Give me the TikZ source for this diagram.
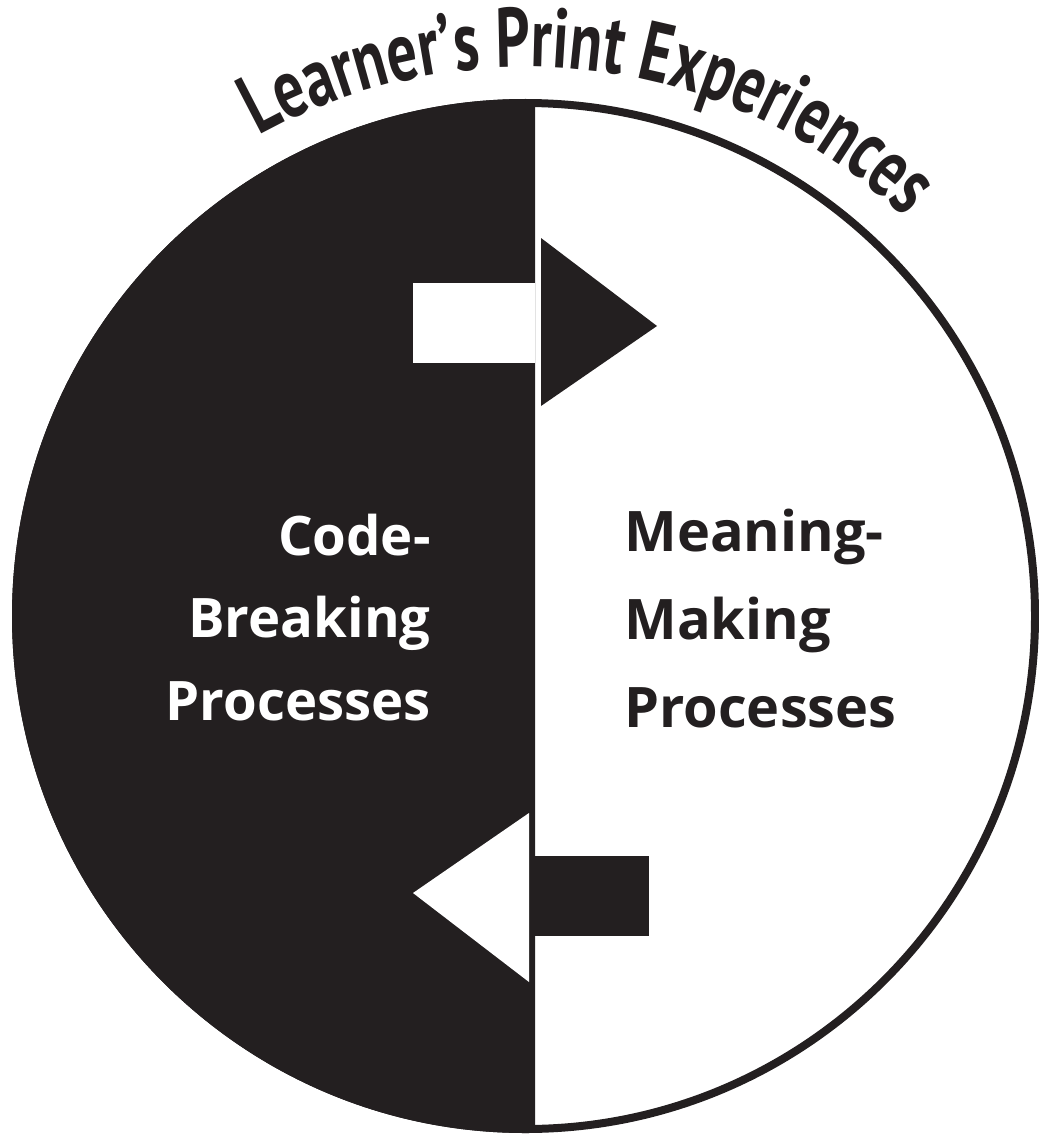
\documentclass[tikz,border=0pt]{standalone}
\usepackage{fontspec}
\usepackage{tikz}
\usetikzlibrary{decorations.text}
\newfontfamily\bodyfont{Open Sans}
\newfontfamily\titlefont[FakeStretch=0.71]{PT Sans}
\definecolor{ink}{RGB}{35,31,32}
\tikzset{
  printhalf/.style={fill=ink},
  printrim/.style={draw=ink,line width=4.55pt},
  processlabel/.style={font=\bodyfont\bfseries\fontsize{31}{46.7}\selectfont,inner sep=0pt},
  every picture/.style={line join=miter}
}

\begin{document}
\begin{tikzpicture}[x=0.02cm,y=0.02cm]
  \useasboundingbox (0,0) rectangle (1038,-1135);
  \coordinate (hub) at (525.5,-616);
  \begin{scope}
    \clip (0,0) rectangle (535,-1135);
    \path[printhalf] (hub) ellipse [x radius=513.5,y radius=517];
  \end{scope}
  \draw[printrim] (hub) ellipse [x radius=509.5,y radius=513];
  % upper arrow, left to right
  \fill[white] (413,-283) rectangle (535,-363);
  \fill[ink] (541,-238)--(657,-326)--(541,-406)--cycle;
  % lower arrow, right to left
  \fill[ink] (535,-856) rectangle (649,-936);
  \fill[white] (529,-813)--(413,-893)--(529,-982)--cycle;
  \node[processlabel,text=white,align=right,anchor=base east] (codebreak)
    at (431,-720) {Code-\\Breaking\\Processes};
  \node[processlabel,font=\bodyfont\bfseries\fontsize{31.8}{50}\selectfont,
    text=ink,align=left,anchor=base west] (meaningmake)
    at (624,-727) {Meaning-\\Making\\Processes};
  \path[decorate,decoration={text along path,text align=center,
      text={|\titlefont\bfseries\fontsize{48}{48}\selectfont\color{ink}|Learner’s Print Experiences}}]
    ([shift={(124:553)}]526,-620) arc[start angle=124,end angle=41.7,radius=553];
\end{tikzpicture}
\end{document}
